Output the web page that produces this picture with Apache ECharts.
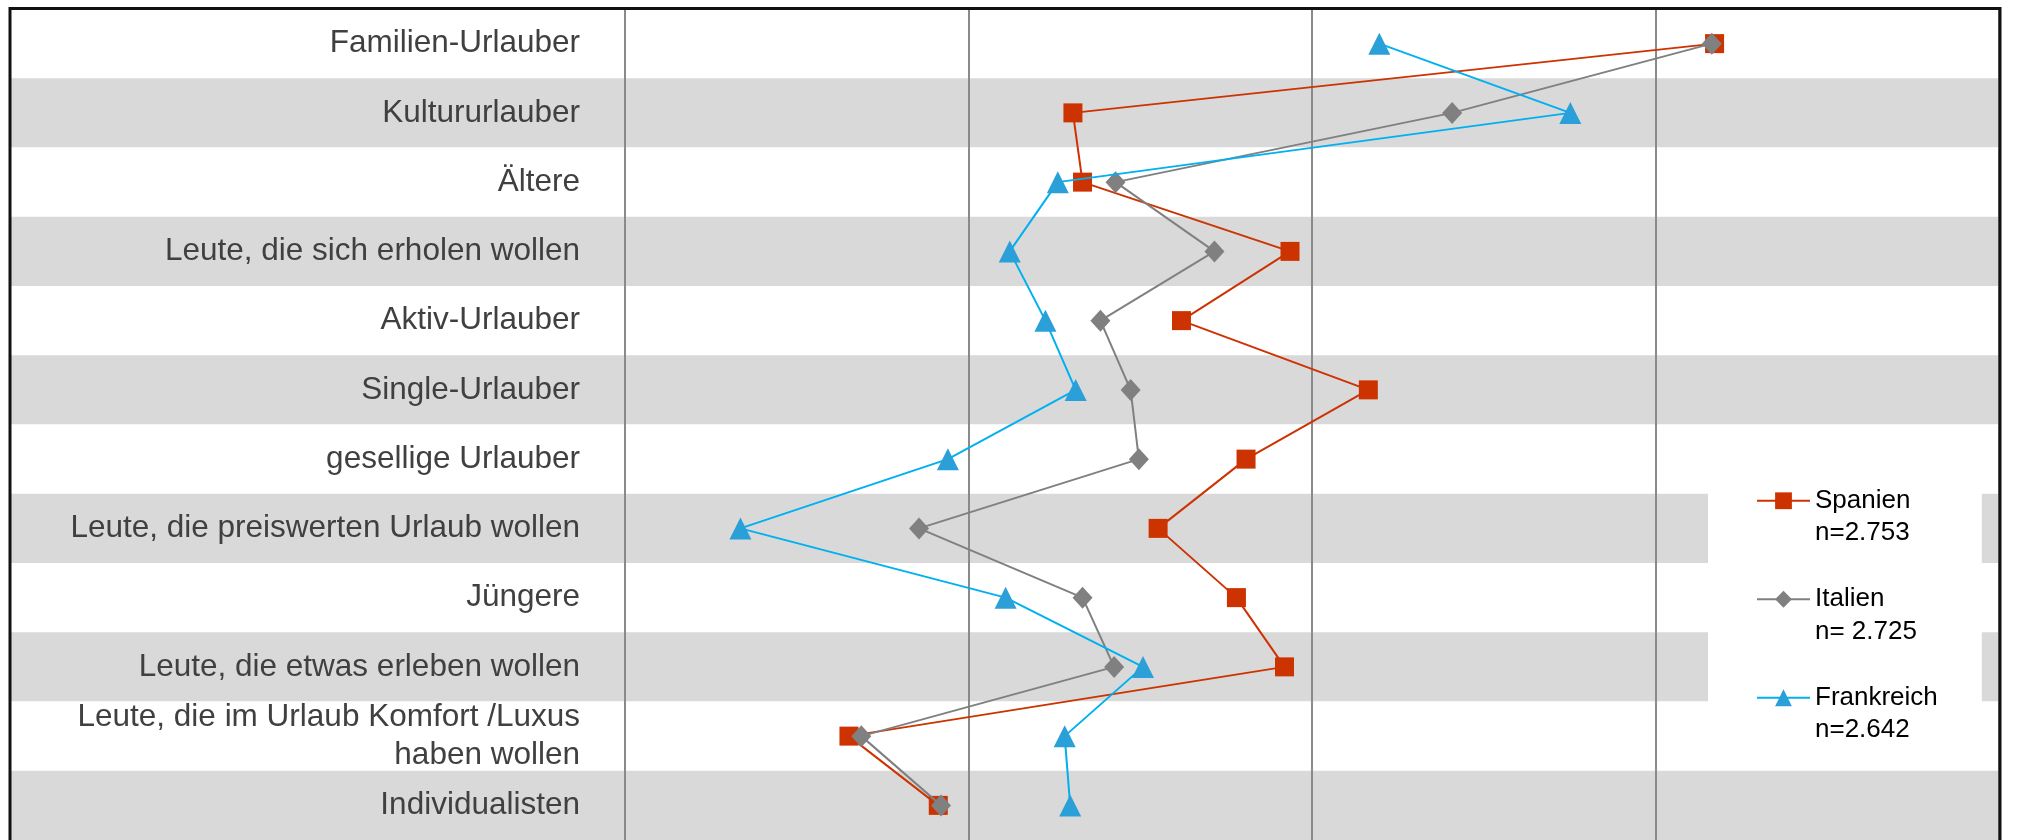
<!DOCTYPE html>
<html>
<head>
<meta charset="utf-8">
<script src="https://cdn.jsdelivr.net/npm/echarts@6/dist/echarts.min.js"></script>
<style>
html,body{margin:0;padding:0;background:#fff;}
#chart{width:2037px;height:840px;}
</style>
</head>
<body>
<div id="chart"></div>
<script>
// ---- data ----
const categories = [
  'Familien-Urlauber',
  'Kultururlauber',
  'Ältere',
  'Leute, die sich erholen wollen',
  'Aktiv-Urlauber',
  'Single-Urlauber',
  'gesellige Urlauber',
  'Leute, die preiswerten Urlaub wollen',
  'Jüngere',
  'Leute, die etwas erleben wollen',
  'Leute, die im Urlaub Komfort /Luxus\nhaben wollen',
  'Individualisten'
];
const seriesNames = ['Spanien', 'Italien', 'Frankreich'];
const sampleSizes = ['n=2.753', 'n= 2.725', 'n=2.642'];
const spanien    = [79.3, 32.6, 33.3, 48.4, 40.5, 54.1, 45.2, 38.8, 44.5, 48.0, 16.3, 22.8];
const italien    = [79.1, 60.2, 35.7, 42.9, 34.6, 36.8, 37.4, 21.4, 33.3, 35.6, 17.2, 23.0];
const frankreich = [54.9, 68.8, 31.5, 28.0, 30.6, 32.8, 23.5, 8.4, 27.7, 37.7, 32.0, 32.4];
const xMin = 0, xMax = 100, xInterval = 25;

const FONT = "'Liberation Sans', Arial, sans-serif";
const chart = echarts.init(document.getElementById('chart'), null, {renderer: 'canvas'});

const nameToN = {};
seriesNames.forEach((n, i) => { nameToN[n] = sampleSizes[i]; });

const option = {
  animation: false,
  backgroundColor: '#ffffff',
  grid: [
    {left: 10, right: 37, top: 9, bottom: -2, containLabel: false},
    {left: 625, right: 38, top: 9, bottom: -2, containLabel: false}
  ],
  xAxis: [
    {gridIndex: 0, type: 'value', min: xMin, max: xMax, show: false, splitLine: {show: false}},
    {
      gridIndex: 1, type: 'value', min: xMin, max: xMax, interval: xInterval,
      axisLine: {show: false}, axisTick: {show: false}, axisLabel: {show: false},
      splitLine: {show: true, lineStyle: {color: '#8a8a8a', width: 2}},
      z: 1
    }
  ],
  yAxis: [
    {
      gridIndex: 0, type: 'category', data: categories, inverse: true,
      axisLine: {show: false}, axisTick: {show: false}, axisLabel: {show: false},
      splitLine: {show: false},
      splitArea: {show: true, areaStyle: {color: ['#ffffff', '#d9d9d9']}},
      z: 0
    },
    {
      gridIndex: 1, type: 'category', data: categories, inverse: true,
      axisLine: {show: false}, axisTick: {show: false},
      splitLine: {show: false}, splitArea: {show: false},
      axisLabel: {
        show: true, margin: 45, fontSize: 31.5, lineHeight: 38,
        color: '#404040', fontFamily: FONT, align: 'right',
        padding: [8, 0, 0, 0]
      },
      z: 1
    }
  ],
  legend: {
    orient: 'vertical',
    left: 1708,
    top: 440,
    backgroundColor: '#ffffff',
    padding: [12, 44, 8, 48],
    itemWidth: 53,
    itemHeight: 21,
    itemGap: 1,
    data: seriesNames,
    formatter: name => '\n' + name + '\n' + nameToN[name],
    textStyle: {
      fontSize: 26, lineHeight: 32.5, color: '#000000', fontFamily: FONT
    },
    z: 5
  },
  series: [
    {
      name: seriesNames[0], type: 'line', xAxisIndex: 1, yAxisIndex: 1,
      data: spanien, symbol: 'rect', symbolSize: 19,
      lineStyle: {color: '#cc3300', width: 2},
      itemStyle: {color: '#cc3300'},
      z: 3
    },
    {
      name: seriesNames[1], type: 'line', xAxisIndex: 1, yAxisIndex: 1,
      data: italien, symbol: 'diamond', symbolSize: [20, 22],
      lineStyle: {color: '#808080', width: 2},
      itemStyle: {color: '#808080'},
      z: 4
    },
    {
      name: seriesNames[2], type: 'line', xAxisIndex: 1, yAxisIndex: 1,
      data: frankreich, symbol: 'triangle', symbolSize: 22,
      lineStyle: {color: '#00b0f0', width: 2},
      itemStyle: {color: '#2a9fd8'},
      z: 5
    }
  ],
  graphic: [
    {
      type: 'rect', z: 100, silent: true,
      shape: {x: 10, y: 8.5, width: 1990, height: 900},
      style: {fill: null, stroke: '#111111', lineWidth: 3}
    }
  ]
};
chart.setOption(option);
</script>
</body>
</html>
